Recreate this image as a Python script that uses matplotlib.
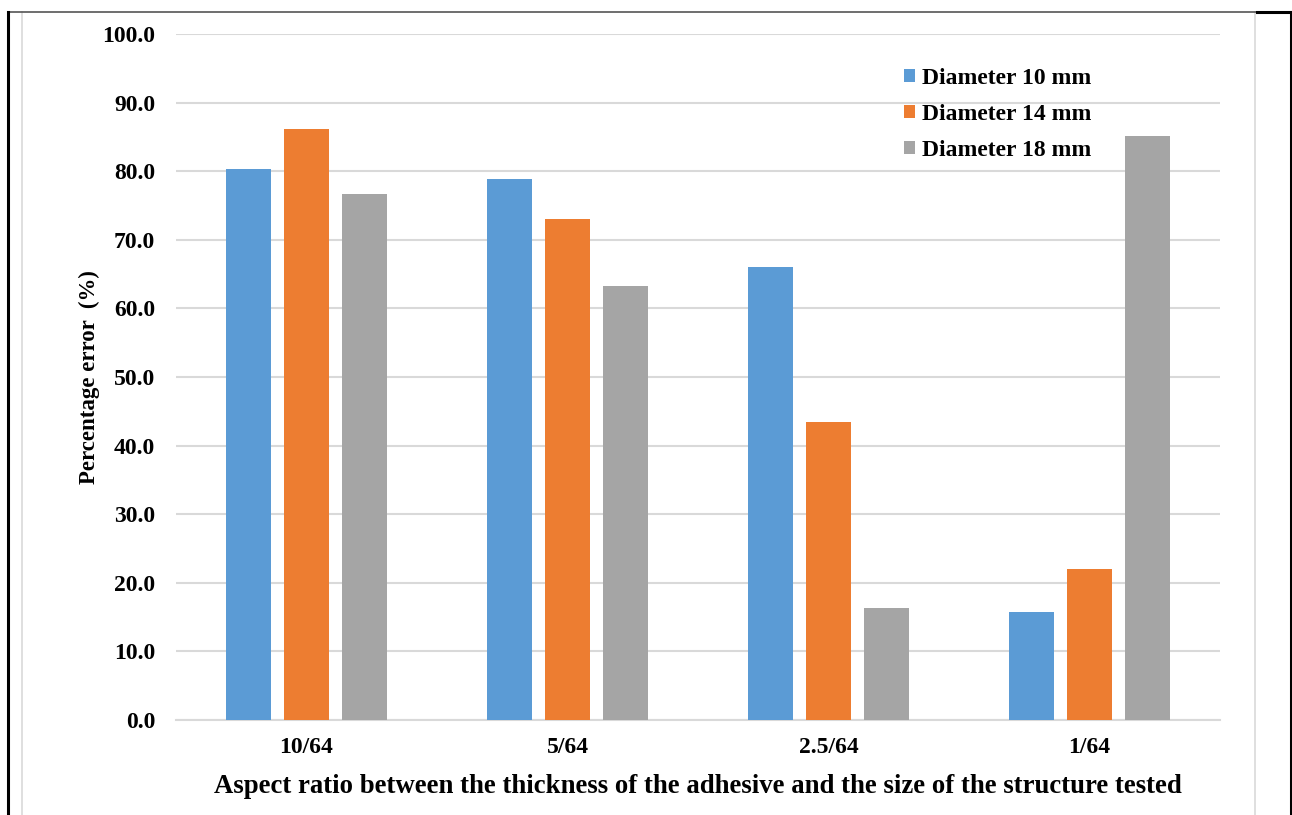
import numpy as np
import matplotlib
matplotlib.use("Agg")
import matplotlib.pyplot as plt
from matplotlib.lines import Line2D

plt.rcParams['font.family'] = ['Liberation Serif', 'DejaVu Serif']
plt.rcParams['font.weight'] = 'bold'

ratios = ['10/64', '5/64', '2.5/64', '1/64']
series_names = ['Diameter 10 mm', 'Diameter 14 mm', 'Diameter 18 mm']
d10 = [80.3, 78.9, 66.0, 15.7]
d14 = [86.2, 73.1, 43.4, 22.0]
d18 = [76.7, 63.2, 16.3, 85.1]
colors = ['#5B9BD5', '#ED7D31', '#A5A5A5']

W, H = 1292, 815
fig = plt.figure(figsize=(W / 100, H / 100), dpi=100)
ax = fig.add_axes([176 / W, 1 - 720 / H, (1220 - 176) / W, (720 - 34) / H])

x = np.arange(len(ratios))
width = 0.172
step = 0.222
for i, (vals, name, c) in enumerate(zip([d10, d14, d18], series_names, colors)):
    ax.bar(x + (i - 1) * step, vals, width, color=c, label=name, zorder=3)

ax.set_xlim(-0.5, 3.5)
ax.set_ylim(0, 100)
ax.set_yticks(np.arange(0, 101, 10))
ax.set_yticklabels([f'{v:.1f}' for v in np.arange(0, 101, 10)], fontsize=17, fontweight='bold')
ax.set_xticks(x)
ax.set_xticklabels(ratios, fontsize=17, fontweight='bold')
ax.tick_params(axis='both', length=0)
ax.tick_params(axis='y', pad=15)
ax.tick_params(axis='x', pad=12.5)
ax.yaxis.grid(True, color='#d9d9d9', linewidth=1.5, zorder=0)
for s in ['top', 'right', 'left']:
    ax.spines[s].set_visible(False)
ax.spines['bottom'].set_color('#d9d9d9')
ax.spines['bottom'].set_linewidth(1.5)

ax.set_ylabel('Percentage error  (%)', fontsize=16.5, fontweight='bold', labelpad=1.5)
ax.set_xlabel('Aspect ratio between the thickness of the adhesive and the size of the structure tested',
              fontsize=19.3, fontweight='bold', labelpad=11.5)

fig.legend(loc='upper left', bbox_to_anchor=(883 / W, 1 - 47 / H), frameon=False,
           prop={'size': 17, 'weight': 'bold'}, handlelength=0.46, handleheight=0.46,
           handletextpad=0.3, labelspacing=0.63)

# page frame around the chart
fig.add_artist(Line2D([22 / W, 22 / W], [0, 1 - 12 / H], color='#d9d9d9', lw=1.2))
fig.add_artist(Line2D([1255 / W, 1255 / W], [0, 1 - 12 / H], color='#d9d9d9', lw=1.2))
fig.add_artist(Line2D([8 / W, 1257 / W], [1 - 12 / H, 1 - 12 / H], color='#555555', lw=1.2))
fig.add_artist(Line2D([1257 / W, 1291 / W], [1 - 12 / H, 1 - 12 / H], color='black', lw=2.2))
fig.add_artist(Line2D([8 / W, 8 / W], [0, 1 - 12 / H], color='black', lw=2.2))
fig.add_artist(Line2D([1291 / W, 1291 / W], [0, 1 - 12 / H], color='black', lw=2.2))

fig.savefig('out.png', dpi=100)
